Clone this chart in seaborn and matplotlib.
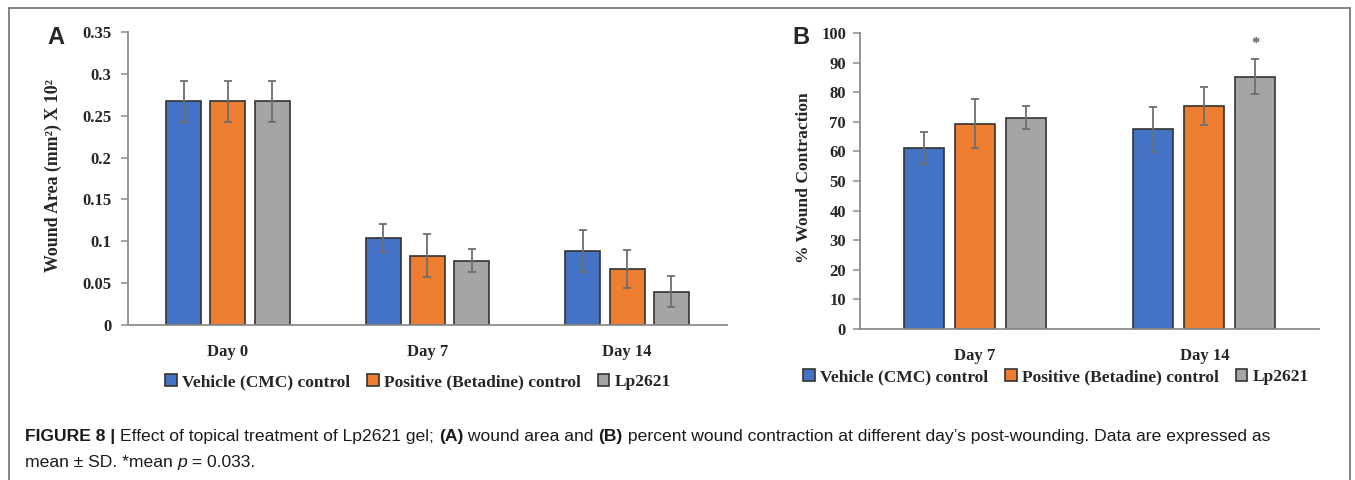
import numpy as np
import pandas as pd
import seaborn as sns
import matplotlib
matplotlib.use("Agg")
import matplotlib.pyplot as plt
from matplotlib.lines import Line2D

# ---------------- data ----------------
groups = ["Vehicle (CMC) control", "Positive (Betadine) control", "Lp2621"]
colors = ["#4472C4", "#ED7D31", "#A5A5A5"]

days_a = ["Day 0", "Day 7", "Day 14"]
area_vehicle = [0.267, 0.104, 0.088]
area_positive = [0.267, 0.083, 0.067]
area_lp = [0.267, 0.077, 0.040]
area_sd_vehicle = [0.024, 0.017, 0.025]
area_sd_positive = [0.024, 0.026, 0.023]
area_sd_lp = [0.024, 0.014, 0.019]

days_b = ["Day 7", "Day 14"]
contr_vehicle = [61.1, 67.4]
contr_positive = [69.4, 75.3]
contr_lp = [71.4, 85.3]
contr_sd_vehicle = [5.4, 7.6]
contr_sd_positive = [8.3, 6.5]
contr_sd_lp = [4.0, 6.0]

yticks_a = [0, 0.05, 0.1, 0.15, 0.2, 0.25, 0.3, 0.35]
yticklabels_a = ["0", "0.05", "0.1", "0.15", "0.2", "0.25", "0.3", "0.35"]
yticks_b = list(range(0, 101, 10))

caption_line1 = [
    ("FIGURE 8 | ", "bold", "normal"),
    ("Effect of topical treatment of Lp2621 gel; ", "normal", "normal"),
    ("(A)", "bold", "normal"),
    (" wound area and ", "normal", "normal"),
    ("(B)", "bold", "normal"),
    (" percent wound contraction at different day\u2019s post-wounding. Data are expressed as", "normal", "normal"),
]
caption_line2 = [
    ("mean \u00b1 SD. *mean ", "normal", "normal"),
    ("p", "normal", "italic"),
    (" = 0.033.", "normal", "normal"),
]

# ---------------- style ----------------
sns.set_theme(style="white")
plt.rcParams["font.family"] = ["Liberation Serif", "DejaVu Serif"]
plt.rcParams["font.weight"] = "bold"

W, H = 1355, 480
fig = plt.figure(figsize=(W / 100, H / 100), dpi=100)

def fx(px):
    return px / W

def fy(py):
    return 1 - py / H

spine_col = "#8C8C8C"
err_col = "#6E6E6E"
TICK = 12
DAY = 12
LEG = 12.5


def make_panel(rect, cats, vals, sds, yticks, ylabels, ylim, ypad, xpad):
    ax = fig.add_axes(rect)
    rows = []
    for g, v in zip(groups, vals):
        for c, y in zip(cats, v):
            rows.append({"day": c, "group": g, "value": y})
    df = pd.DataFrame(rows)
    sns.barplot(data=df, x="day", y="value", hue="group", order=cats,
                hue_order=groups, palette=colors, errorbar=None,
                width=0.665, gap=0.21, edgecolor="#333333", linewidth=1.2,
                saturation=1, ax=ax)
    for cont, sd, v in zip(ax.containers, sds, vals):
        xs = [b.get_x() + b.get_width() / 2 for b in cont]
        ax.errorbar(xs, v, yerr=sd, fmt="none", ecolor=err_col,
                    elinewidth=1.3, capsize=2.6, capthick=1.3, zorder=5)
    ax.set_xlim(-0.5, len(cats) - 0.5)
    ax.set_ylim(*ylim)
    ax.set_yticks(yticks)
    ax.set_yticklabels(ylabels)
    for s in ["top", "right"]:
        ax.spines[s].set_visible(False)
    for s in ["left", "bottom"]:
        ax.spines[s].set_color(spine_col)
        ax.spines[s].set_linewidth(1.3)
    ax.tick_params(axis="y", which="both", left=True, length=5, width=1.1,
                   color=spine_col, pad=ypad, labelsize=TICK)
    ax.tick_params(axis="x", bottom=False, pad=xpad, labelsize=DAY)
    for lab in ax.get_xticklabels() + ax.get_yticklabels():
        lab.set_fontweight("bold")
    ax.set_xlabel("")
    ax.set_ylabel("")
    handles, labels = ax.get_legend_handles_labels()
    ax.get_legend().remove()
    return ax, handles, labels


# Panel A
axA, hA, lA = make_panel(
    [fx(128), fy(325), fx(727) - fx(128), fy(32) - fy(325)],
    days_a,
    [area_vehicle, area_positive, area_lp],
    [area_sd_vehicle, area_sd_positive, area_sd_lp],
    yticks_a, yticklabels_a, (0, 0.35), 7, 8,
)
fig.text(fx(53), fy(176), "Wound Area (mm\u00b2) X 10\u00b2", rotation=90,
         ha="center", va="center", fontsize=12.9, fontweight="bold")

# Panel B
axB, hB, lB = make_panel(
    [fx(860), fy(329), fx(1319) - fx(860), fy(33) - fy(329)],
    days_b,
    [contr_vehicle, contr_positive, contr_lp],
    [contr_sd_vehicle, contr_sd_positive, contr_sd_lp],
    yticks_b, [str(t) for t in yticks_b], (0, 100), 5, 8,
)
fig.text(fx(804), fy(178), "% Wound Contraction", rotation=90,
         ha="center", va="center", fontsize=12.6, fontweight="bold")

# significance star above Lp2621 Day 14
starx = [b.get_x() + b.get_width() / 2 for b in axB.containers[2]][1]
axB.text(starx, contr_lp[1] + contr_sd_lp[1] + 5.0, "*", ha="center",
         va="center", fontsize=12, color="#555555", fontweight="bold")

# legends
for ax, hs, ls, cx, cy in [(axA, hA, lA, 418, 382), (axB, hB, lB, 1056, 377)]:
    ax.legend(hs, ls, loc="center", bbox_to_anchor=(fx(cx), fy(cy)),
              bbox_transform=fig.transFigure, ncol=3, frameon=False,
              handlelength=0.65, handleheight=0.65, handletextpad=0.3,
              columnspacing=1.0, borderaxespad=0,
              prop={"family": "Liberation Serif", "weight": "bold", "size": LEG})

# panel letters
fig.text(fx(47), fy(37), "A", fontsize=17, fontweight="bold",
         family="Liberation Sans", va="center", ha="left")
fig.text(fx(792), fy(37), "B", fontsize=17, fontweight="bold",
         family="Liberation Sans", va="center", ha="left")

# frame around the figure area
fcol = "#7a7a7a"
fig.add_artist(Line2D([fx(9), fx(1350)], [fy(8), fy(8)], color=fcol, lw=1.3))
fig.add_artist(Line2D([fx(9), fx(9)], [fy(8), 0], color=fcol, lw=1.3))
fig.add_artist(Line2D([fx(1350), fx(1350)], [fy(8), 0], color=fcol, lw=1.3))

# caption (mixed styles laid out piece by piece)
def place(pieces, x0_px, base_px, size):
    r = fig.canvas.get_renderer()
    x = x0_px
    for txt, w, st in pieces:
        t = fig.text(fx(x), fy(base_px), txt, ha="left", va="baseline",
                     fontsize=size, fontweight=w, fontstyle=st,
                     family=["Liberation Sans", "DejaVu Sans"],
                     color="#1a1a1a")
        x = t.get_window_extent(r).x1

place(caption_line1, 25, 441, 12.6)
place(caption_line2, 25, 467, 12.6)

fig.savefig("out.png", dpi=100)
